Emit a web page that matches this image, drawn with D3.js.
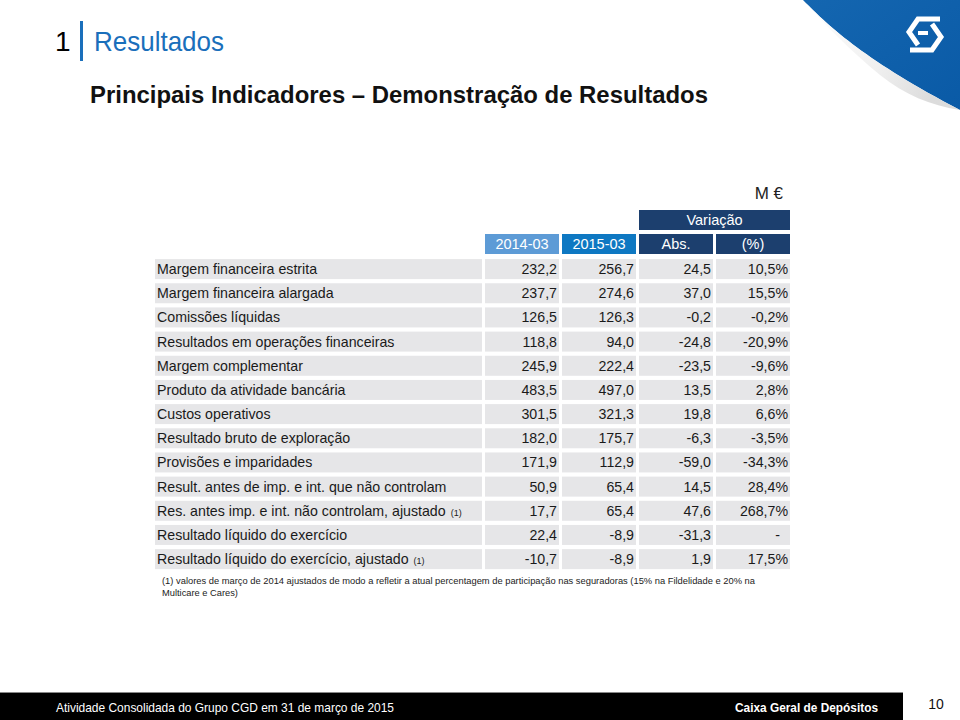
<!DOCTYPE html>
<html><head><meta charset="utf-8">
<script src="https://cdn.jsdelivr.net/npm/d3@7"></script>
<style>html,body{margin:0;padding:0;background:#fff;}svg{display:block;}</style>
</head><body>
<svg id="c" width="960" height="720"></svg>
<script>
const rowLabels = [
  "Margem financeira estrita",
  "Margem financeira alargada",
  "Comissões líquidas",
  "Resultados em operações financeiras",
  "Margem complementar",
  "Produto da atividade bancária",
  "Custos operativos",
  "Resultado bruto de exploração",
  "Provisões e imparidades",
  "Result. antes de imp. e int. que não controlam",
  "Res. antes imp. e int. não controlam, ajustado",
  "Resultado líquido do exercício",
  "Resultado líquido do exercício, ajustado"
];
const footnoteFlag = [false,false,false,false,false,false,false,false,false,false,true,false,true];
const values2014 = [232.2, 237.7, 126.5, 118.8, 245.9, 483.5, 301.5, 182.0, 171.9, 50.9, 17.7, 22.4, -10.7];
const values2015 = [256.7, 274.6, 126.3, 94.0, 222.4, 497.0, 321.3, 175.7, 112.9, 65.4, 65.4, -8.9, -8.9];
const varAbs = [24.5, 37.0, -0.2, -24.8, -23.5, 13.5, 19.8, -6.3, -59.0, 14.5, 47.6, -31.3, 1.9];
const varPct = [10.5, 15.5, -0.2, -20.9, -9.6, 2.8, 6.6, -3.5, -34.3, 28.4, 268.7, null, 17.5];
const colHeaders = ["2014-03", "2015-03", "Abs.", "(%)"];
const colKeys = ["v2014", "v2015", "abs", "pct"];

const svg = d3.select("#c");
const F = "Liberation Sans, Arial, sans-serif";

// ---------- top-right page curl ----------
const defs = svg.append("defs");
const g1 = defs.append("linearGradient").attr("id","blueG").attr("x1","0").attr("y1","0").attr("x2","1").attr("y2","1");
g1.append("stop").attr("offset","0").attr("stop-color","#1466b0");
g1.append("stop").attr("offset","1").attr("stop-color","#0a5aa6");
const g2 = defs.append("linearGradient").attr("id","curlG").attr("x1","0").attr("y1","0").attr("x2","1").attr("y2","0.3");
g2.append("stop").attr("offset","0").attr("stop-color","#ffffff");
g2.append("stop").attr("offset","0.6").attr("stop-color","#eeeeee");
g2.append("stop").attr("offset","1").attr("stop-color","#d8d8d8");
svg.append("path").attr("d","M803,0 C830,28 868,62 960,110 L960,0 Z").attr("fill","url(#blueG)");
svg.append("path").attr("d","M803,0 C830,28 868,62 960,110 C930,105 905,95 880,75 C850,50 825,25 803,0 Z").attr("fill","url(#curlG)").attr("opacity",0.9);
// logo (stylised)
const logo = svg.append("g").attr("fill","none").attr("stroke","#fff").attr("stroke-width",5).attr("stroke-linejoin","miter");
logo.append("path").attr("d","M940,19 L918,19 L909,32 L918,45");
logo.append("path").attr("d","M910,50 L932,50 L941,37 L932,24");
logo.append("path").attr("d","M918,33 L928,33").attr("stroke-width",4);

// ---------- titles ----------
svg.append("text").attr("x",55).attr("y",51).attr("font-family",F).attr("font-size",28).attr("fill","#000").text("1");
svg.append("rect").attr("x",80).attr("y",21).attr("width",3).attr("height",40).attr("fill","#1a6fbb");
svg.append("text").attr("x",94).attr("y",51).attr("font-family",F).attr("font-size",28).attr("fill","#1a6fbb")
  .attr("textLength",130).attr("lengthAdjust","spacingAndGlyphs").text("Resultados");
svg.append("text").attr("x",90).attr("y",103).attr("font-family",F).attr("font-size",24).attr("font-weight","bold").attr("fill","#111")
  .attr("textLength",618).attr("lengthAdjust","spacingAndGlyphs")
  .text("Principais Indicadores – Demonstração de Resultados");

// ---------- table ----------
const rows = rowLabels.map((l,i)=>({label:l, fn:footnoteFlag[i], v2014:values2014[i], v2015:values2015[i], abs:varAbs[i], pct:varPct[i]}));
const y = d3.scaleBand().domain(d3.range(rows.length)).range([257, 257 + 13*24.17]).paddingInner(4.17/24.17).paddingOuter(2.085/24.17);
const x = d3.scaleBand().domain(colKeys).range([483.5, 791.5]).paddingInner(3/77).paddingOuter(1.5/77);
const labelX0 = 155, labelX1 = 482;
const fmt = v => v === null ? "-" : d3.format(".1f")(v).replace("−","-").replace(".", ",");

svg.append("text").attr("x",783).attr("y",199).attr("text-anchor","end").attr("font-family",F).attr("font-size",17).attr("fill","#222").text("M €");

// headers
svg.append("rect").attr("x",x("abs")).attr("y",210).attr("width",x("pct")+x.bandwidth()-x("abs")).attr("height",20).attr("fill","#1c3f6e");
svg.append("text").attr("x",(x("abs")+x("pct")+x.bandwidth())/2).attr("y",225).attr("text-anchor","middle").attr("font-family",F).attr("font-size",14.5).attr("fill","#fff").text("Variação");
const hdrColors = {v2014:"#5d9bd6", v2015:"#0e78c2", abs:"#1c3f6e", pct:"#1c3f6e"};
colKeys.forEach((k,i)=>{
  svg.append("rect").attr("x",x(k)).attr("y",234).attr("width",x.bandwidth()).attr("height",20).attr("fill",hdrColors[k]);
  svg.append("text").attr("x",x(k)+x.bandwidth()/2).attr("y",249).attr("text-anchor","middle").attr("font-family",F).attr("font-size",14.5).attr("fill","#fff").text(colHeaders[i]);
});

const rg = svg.selectAll("g.row").data(rows).join("g").attr("class","row").attr("transform",(d,i)=>`translate(0,${y(i)})`);
rg.append("rect").attr("x",labelX0).attr("y",0).attr("width",labelX1-labelX0).attr("height",y.bandwidth()).attr("fill","#e6e6e8");
const lt = rg.append("text").attr("x",labelX0+2).attr("y",15).attr("font-family",F).attr("font-size",14.2).attr("fill","#1a1a1a");
lt.append("tspan").text(d=>d.label);
lt.filter(d=>d.fn).append("tspan").attr("font-size",9).attr("dx",5).text("(1)");
colKeys.forEach(k=>{
  rg.append("rect").attr("x",x(k)).attr("y",0).attr("width",x.bandwidth()).attr("height",y.bandwidth()).attr("fill","#e6e6e8");
  rg.append("text").attr("x",d=> x(k)+x.bandwidth()-2 - (k==="pct" && d.pct===null ? 8 : 0)).attr("y",15).attr("text-anchor","end").attr("font-family",F).attr("font-size",14.2).attr("fill","#1a1a1a")
    .text(d=> k==="pct" ? (d.pct===null ? "-" : fmt(d.pct)+"%") : fmt(d[k]));
});
// footnote
const fn = svg.append("text").attr("font-family",F).attr("font-size",9.3).attr("fill","#222");
fn.append("tspan").attr("x",162).attr("y",584).attr("textLength",593).attr("lengthAdjust","spacingAndGlyphs").text("(1) valores de março de 2014 ajustados de modo a refletir a atual percentagem de participação nas seguradoras (15% na Fildelidade e 20% na");
fn.append("tspan").attr("x",162).attr("y",596).text("Multicare e Cares)");

// ---------- footer ----------
svg.append("rect").attr("x",0).attr("y",692).attr("width",903).attr("height",28).attr("fill","#000");
svg.append("rect").attr("x",0).attr("y",692).attr("width",903).attr("height",1).attr("fill","#888");
svg.append("text").attr("x",56).attr("y",712).attr("font-family",F).attr("font-size",13).attr("fill","#fff")
  .attr("textLength",338).attr("lengthAdjust","spacingAndGlyphs").text("Atividade Consolidada do Grupo CGD em 31 de março de 2015");
svg.append("text").attr("x",735).attr("y",712).attr("font-family",F).attr("font-size",13).attr("font-weight","bold").attr("fill","#fff")
  .attr("textLength",143).attr("lengthAdjust","spacingAndGlyphs").text("Caixa Geral de Depósitos");
svg.append("text").attr("x",936).attr("y",709).attr("text-anchor","middle").attr("font-family",F).attr("font-size",14).attr("fill","#111").text("10");
</script>
</body></html>
